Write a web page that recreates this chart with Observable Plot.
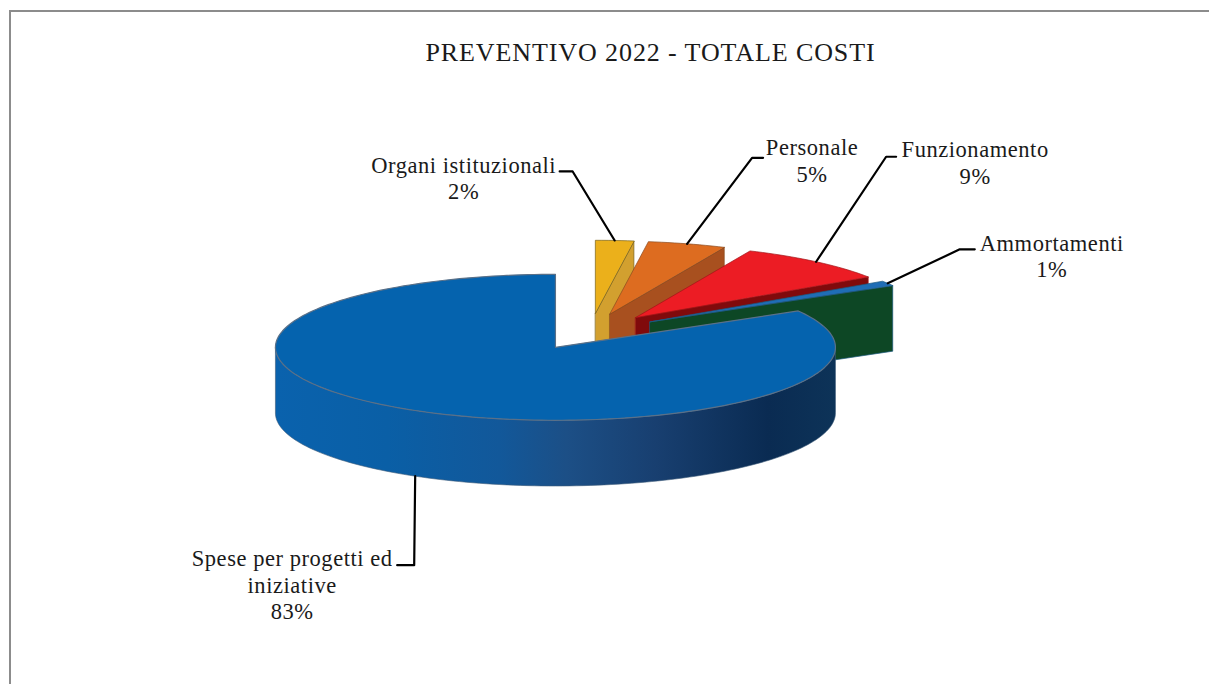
<!DOCTYPE html>
<html>
<head>
<meta charset="utf-8">
<script src="https://cdn.jsdelivr.net/npm/d3@7"></script>
<script src="https://cdn.jsdelivr.net/npm/@observablehq/plot@0.6"></script>
<style>
html,body{margin:0;padding:0;background:#fff;overflow:hidden}
#frame{position:absolute;left:9px;top:10px;width:1200px;height:674px;border-top:2px solid #8c8c8c;border-left:2px solid #8c8c8c;box-sizing:border-box}
#chart{position:absolute;left:0;top:0}
#chart g[font-size="22.5"]{letter-spacing:.55px}
#chart g[font-size="26"]{letter-spacing:.9px}
</style>
</head>
<body>
<div id="frame"></div>
<div id="chart"></div>
<script>
const chartTitle = "PREVENTIVO 2022 - TOTALE COSTI";
const categories = ["Organi istituzionali", "Personale", "Funzionamento", "Ammortamenti", "Spese per progetti ed iniziative"];
const shares = [2.2, 4.5, 8.9, 1.1, 83.3];
const labelLines = ["Organi istituzionali", "Personale", "Funzionamento", "Ammortamenti", "Spese per progetti ed\niniziative"];

// Colours
const topColors = ["#ebb01b", "#dd6c20", "#ec1c24", "#1f6db5", "#0563ae"];
const wallColors = ["#d2a02f", "#a8501f", "#800a0c", "#0d4725", "url(#mainWall)"];
const edgeColors = ["#7a6420", "#8a4a20", "#a01418", "#1d5a80", "#5a7088"];

// 3D pie settings: unit radius in x and y, projected by the scales
const W = 1209, H = 684;
const originX = 590, originY = 331, radiusX = 280, radiusY = 73;
const explode = 0.25, depth = 0.9;

// Leader elbows and text centres, pixel positions relative to each slice's arc midpoint
const elbowOffsets = [[[-42, -69], [-55, -69]], [[65, -86], [76, -86]], [[70, -105], [80, -105]], [[72, -34], [87, -34]], [[-1, 89], [-18, 89]]];
const textOffsets = [[-151, -63], [125, -84], [159, -100], [164, -28], [-123, 108]];

const x = a => Math.sin(a), y = a => Math.cos(a);
const total = d3.sum(shares);
const arcs = [];
let acc = 0;
shares.forEach((v, i) => { arcs.push({i, a0: acc / total * 2 * Math.PI, a1: (acc + v) / total * 2 * Math.PI}); acc += v; });

const rows = [];
const leaderRows = [];
const textRows = [];
const arcPts = (s, from, to, dz) => {
  const n = Math.max(2, Math.ceil(Math.abs(to - from) * 40));
  return d3.range(n + 1).map(k => {
    const a = from + (to - from) * k / n;
    return {X: s.cx + x(a), Y: s.cy + y(a) - dz};
  });
};
const poly = (key, pts, fill, stroke, sw) => pts.forEach(p => rows.push({key, ...p, fill, stroke, sw}));

arcs.forEach(({i, a0, a1}) => {
  const mid = (a0 + a1) / 2;
  const s = {cx: explode * x(mid), cy: explode * y(mid)};
  const isMain = i === arcs.length - 1;
  const apex = {X: s.cx, Y: s.cy};
  const apexLow = {X: s.cx, Y: s.cy - depth};
  if (isMain) {
    const from = Math.PI / 2, to = 3 * Math.PI / 2;
    poly("wall" + i, [...arcPts(s, from, to, 0), ...arcPts(s, to, from, depth)], wallColors[i], "#3c5a78", 0.6);
  } else {
    const e = {X: s.cx + x(a1), Y: s.cy + y(a1)};
    poly("wall" + i, [apex, e, {X: e.X, Y: e.Y - depth}, apexLow], wallColors[i], edgeColors[i], 0.7);
  }
  poly("top" + i, [apex, ...arcPts(s, a0, a1, 0)], topColors[i], edgeColors[i], isMain ? 1.2 : 0.7);
  const anchor = {X: s.cx + x(mid), Y: s.cy + y(mid) - (isMain ? depth : 0)};
  const toUnit = ([dx, dy]) => ({X: anchor.X + dx / radiusX, Y: anchor.Y - dy / radiusY});
  [anchor, ...elbowOffsets[i].map(toUnit)].forEach(p => leaderRows.push({i, ...p}));
  textRows.push({...toUnit(textOffsets[i]), text: `${labelLines[i]}\n${Math.round(shares[i])}%`});
});

const keys = [...new Set(rows.map(d => d.key))];
const polygons = keys.map(k => {
  const pts = rows.filter(d => d.key === k);
  return Plot.line(pts, {x: "X", y: "Y", z: "key", fill: pts[0].fill, stroke: pts[0].stroke, strokeWidth: pts[0].sw, curve: "linear-closed"});
});

const gradient = () => {
  const ns = "http://www.w3.org/2000/svg";
  const defs = document.createElementNS(ns, "defs");
  const g = document.createElementNS(ns, "linearGradient");
  g.setAttribute("id", "mainWall");
  [[0, "#0a62ad"], [0.2, "#0a5fa6"], [0.4, "#12589a"], [0.52, "#1c4f86"], [0.68, "#183f70"], [0.88, "#0a2b52"], [1, "#0d3358"]].forEach(([o, c]) => {
    const st = document.createElementNS(ns, "stop");
    st.setAttribute("offset", o);
    st.setAttribute("stop-color", c);
    g.appendChild(st);
  });
  defs.appendChild(g);
  return defs;
};

const fontFamily = "'Liberation Serif', serif";
const plot = Plot.plot({
  width: W, height: H, margin: 0,
  style: {background: "transparent", fontFamily},
  x: {domain: [-originX / radiusX, (W - originX) / radiusX], axis: null},
  y: {domain: [(originY - H) / radiusY, originY / radiusY], axis: null},
  marks: [
    gradient,
    ...polygons,
    Plot.line(leaderRows, {x: "X", y: "Y", z: "i", stroke: "#000", strokeWidth: 2.2, curve: "linear"}),
    Plot.text(textRows, {x: "X", y: "Y", text: "text", fontSize: 22.5, lineHeight: 1.18, fill: "#1a1a1a", textAnchor: "middle", lineAnchor: "middle"}),
    Plot.text([chartTitle], {x: (650 - originX) / radiusX, y: (originY - 52) / radiusY, fontSize: 26, fill: "#1a1a1a", textAnchor: "middle", lineAnchor: "middle"})
  ]
});
document.getElementById("chart").appendChild(plot);
</script>
</body>
</html>
